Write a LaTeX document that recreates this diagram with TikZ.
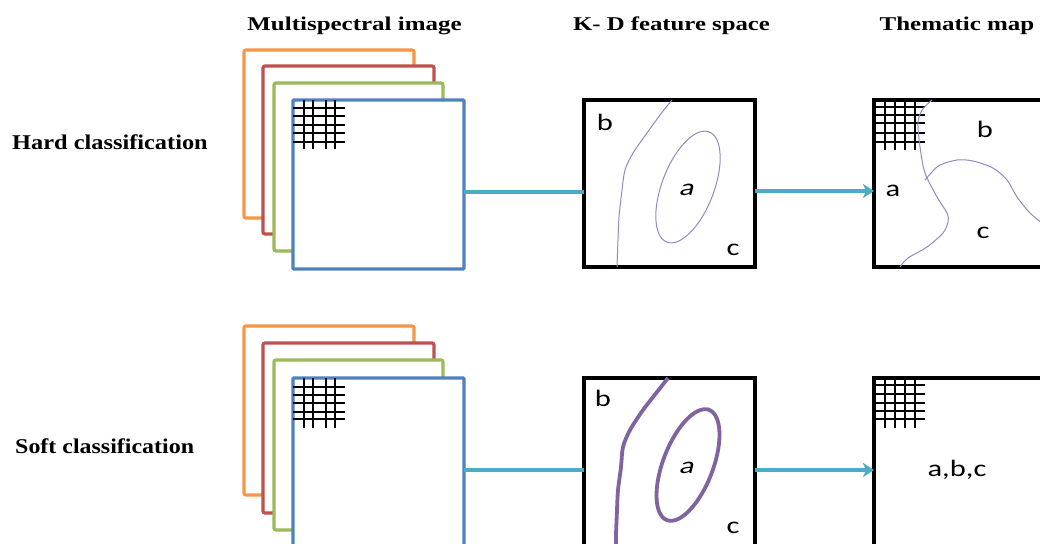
\documentclass[tikz,border=0pt]{standalone}
\usepackage{fontspec}
\setmainfont{Liberation Serif}
\newfontfamily\labfont{Carlito}
\newfontfamily\labslant[FakeSlant=0.2]{Carlito}
\usetikzlibrary{arrows.meta}

\definecolor{bandO}{HTML}{F79646}
\definecolor{bandR}{HTML}{C0504D}
\definecolor{bandG}{HTML}{9BBB59}
\definecolor{bandB}{HTML}{4F81BD}
\definecolor{linkC}{HTML}{4BACC6}
\definecolor{classC}{HTML}{8064A2}
\definecolor{classL}{HTML}{9488C8}

\tikzset{
  stackline/.style={line width=3.2pt, rounded corners=2pt},
  imgbox/.style={draw=bandB, line width=3.2pt, rectangle, inner sep=0pt, outer sep=0pt, rounded corners=1pt},
  fbox/.style={draw=black, line width=3.8pt, rectangle, inner sep=0pt, outer sep=0pt},
  conn/.style={draw=linkC, line width=3.2pt},
  arrowconn/.style={conn, -{Stealth[length=11pt,width=14pt,inset=3pt]}},
  gridline/.style={black, line width=1.7pt},
  thinbound/.style={classL, line width=1pt},
  thickbound/.style={classC, line width=3.8pt},
  title/.style={anchor=base, inner sep=0pt, font=\bfseries\fontsize{19.5}{19.5}\selectfont},
  rowlab/.style={anchor=base west, inner sep=0pt, font=\bfseries\fontsize{21}{21}\selectfont},
  lab/.style={anchor=base, inner sep=0pt, font=\labfont\fontsize{23.5}{23.5}\selectfont},
}

\newcommand{\wide}[2]{\scalebox{#1}[1]{#2}}

\begin{document}
\begin{tikzpicture}[x=1pt, y=-1pt]
\useasboundingbox (0,0) rectangle (1040,543);
\fill[white] (0,0) rectangle (1040,543);
\clip (0,0) rectangle (1040,543);

% column headings
\node[title] (hImg) at (354.5,31) {\wide{1.28}{Multispectral image}};
\node[title] (hFeat) at (671.5,31) {\wide{1.27}{K- D feature space}};
\node[title] (hMap) at (957,31) {\wide{1.28}{Thematic map}};

% row headings
\node[rowlab] (rHard) at (12,149) {\wide{1.16}{Hard classification}};
\node[rowlab] (rSoft) at (15,453) {\wide{1.14}{Soft classification}};

% ---------- hard classification row ----------
\draw[stackline, bandO] (414,65) -- (414,50) -- (244,50) -- (244,218) -- (263,218);
\draw[stackline, bandR] (434,83) -- (434,66) -- (263,66) -- (263,234) -- (274,234);
\draw[stackline, bandG] (443,100) -- (443,83) -- (274,83) -- (274,251) -- (293,251);
\node[imgbox, minimum width=171pt, minimum height=169pt] (imgH) at (378.5,184.5) {};
\node[fbox, minimum width=171pt, minimum height=167pt] (featH) at (669.5,183.5) {};
\node[fbox, minimum width=200pt, minimum height=167pt, anchor=north west] (mapH) at (874,100) {};

\foreach \x in {304,313,326,335} \draw[gridline] (\x,100) -- (\x,149);
\foreach \y in {108,116,125,133,142} \draw[gridline] (293,\y) -- (345,\y);
\foreach \x in {885,895,905,915} \draw[gridline] (\x,100) -- (\x,150);
\foreach \y in {107,115,123,133,142} \draw[gridline] (874,\y) -- (925,\y);

\coordinate (rowH) at (0,192);
\coordinate (rowHa) at (0,191);
\draw[conn] (imgH.east |- rowH) -- (featH.west |- rowH);
\draw[arrowconn] (featH.east |- rowHa) -- (mapH.west |- rowHa);

% class boundaries in feature space
\draw[thinbound] plot[smooth] coordinates {(672,100) (660,115) (647,133) (633,153) (625,170) (622,190) (619,217) (618,240) (617,267)};
\draw[thinbound] plot[domain=0:360, samples=72, smooth cycle, variable=\t]
  ({688 + 59*cos(\t)*cos(69) + 26*sin(\t)*sin(69)}, {187 - 59*cos(\t)*sin(69) + 26*sin(\t)*cos(69)});
\node[lab] (fb1) at (605,130) {\wide{1.3}{b}};
\node[lab] (fa1) at (686,195) {\wide{1.3}{\labslant a}};
\node[lab] (fc1) at (733,255) {\wide{1.3}{c}};

% class boundaries on the map
\draw[thinbound] plot[smooth] coordinates {(932,100) (922,110) (918,123) (920,147) (925,173) (937,197) (947,213) (948,222) (943,233) (927,247) (908,258) (900,267)};
\draw[thinbound] plot[smooth] coordinates {(925,180) (932,172) (940,165) (957,160) (973,161) (993,168) (1007,180) (1017,197) (1030,213) (1042,223)};
\node[lab] (ma1) at (893,196) {\wide{1.3}{a}};
\node[lab] (mb1) at (985,137) {\wide{1.3}{b}};
\node[lab] (mc1) at (983,238) {\wide{1.3}{c}};

% ---------- soft classification row ----------
\draw[stackline, bandO] (414,343) -- (414,326) -- (244,326) -- (244,495) -- (263,495);
\draw[stackline, bandR] (434,360) -- (434,343) -- (263,343) -- (263,513) -- (274,513);
\draw[stackline, bandG] (443,378) -- (443,360) -- (274,360) -- (274,530) -- (293,530);
\node[imgbox, minimum width=171pt, minimum height=169pt] (imgS) at (378.5,462.5) {};
\node[fbox, minimum width=171pt, minimum height=168pt] (featS) at (669.5,462) {};
\node[fbox, minimum width=200pt, minimum height=168pt, anchor=north west] (mapS) at (874,378) {};

\foreach \x in {304,313,326,335} \draw[gridline] (\x,378) -- (\x,428);
\foreach \y in {387,395,403,412,419} \draw[gridline] (293,\y) -- (345,\y);
\foreach \x in {885,895,905,915} \draw[gridline] (\x,378) -- (\x,428);
\foreach \y in {385,394,403,411,419} \draw[gridline] (874,\y) -- (925,\y);

\coordinate (rowS) at (0,470);
\draw[conn] (imgS.east |- rowS) -- (featS.west |- rowS);
\draw[arrowconn] (featS.east |- rowS) -- (mapS.west |- rowS);

\draw[thickbound] plot[smooth] coordinates {(668,378) (657,392) (643,410) (630,430) (623,447) (621,467) (618,490) (617,510) (616,535) (616,550)};
\draw[thickbound] plot[domain=0:360, samples=72, smooth cycle, variable=\t]
  ({688 + 59*cos(\t)*cos(69) + 25*sin(\t)*sin(69)}, {465 - 59*cos(\t)*sin(69) + 25*sin(\t)*cos(69)});
\node[lab] (fb2) at (603,406) {\wide{1.3}{b}};
\node[lab] (fa2) at (686,473) {\wide{1.3}{\labslant a}};
\node[lab] (fc2) at (733,533) {\wide{1.3}{c}};

\node[lab] (mabc) at (957,476) {\wide{1.3}{a,b,c}};
\end{tikzpicture}
\end{document}
